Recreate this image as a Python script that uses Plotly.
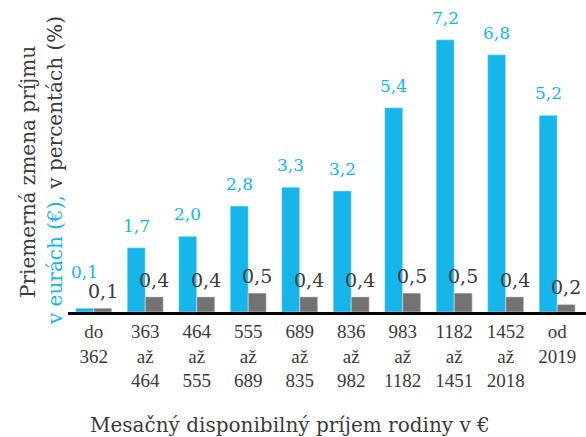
import plotly.graph_objects as go

categories = ["do<br>362", "363<br>až<br>464", "464<br>až<br>555", "555<br>až<br>689", "689<br>až<br>835",
              "836<br>až<br>982", "983<br>až<br>1182", "1182<br>až<br>1451", "1452<br>až<br>2018", "od<br>2019"]
eur_values = [0.1, 1.7, 2.0, 2.8, 3.3, 3.2, 5.4, 7.2, 6.8, 5.2]
pct_values = [0.1, 0.4, 0.4, 0.5, 0.4, 0.4, 0.5, 0.5, 0.4, 0.2]

BLUE = "#16b5ea"
GRAY = "#757272"
DARK = "#3b3b3b"
FONT = "DejaVu Serif"
TICKFONT = "Liberation Serif"

def fmt(v):
    return f"{v:.1f}".replace(".", ",")

x_idx = list(range(len(categories)))

fig = go.Figure()
fig.add_trace(go.Bar(x=x_idx, y=eur_values, marker_color=BLUE, name="eur"))
fig.add_trace(go.Bar(x=x_idx, y=pct_values, marker_color=GRAY, name="pct"))

annotations = []
for i, v in enumerate(eur_values):
    annotations.append(dict(x=i, y=v, xref="x", yref="y", text=fmt(v), showarrow=False,
                            xshift=-9, yshift=10 + (14 if i == 0 else 0), yanchor="bottom",
                            font=dict(family=FONT, size=17, color=BLUE)))
for i, v in enumerate(pct_values):
    annotations.append(dict(x=i, y=v, xref="x", yref="y", text=fmt(v), showarrow=False,
                            xshift=9, yshift=4, yanchor="bottom",
                            font=dict(family=FONT, size=19, color=DARK)))

# y-axis title (two lines)
annotations.append(dict(
    xref="paper", yref="paper", x=-0.0772, y=0.449, xanchor="center", yanchor="middle",
    textangle=-90, showarrow=False, text="Priemerná zmena príjmu",
    font=dict(family=FONT, size=20, color=DARK)))
annotations.append(dict(
    xref="paper", yref="paper", x=-0.0251, y=0.455, xanchor="center", yanchor="middle",
    textangle=-90, showarrow=False,
    text="<span style='color:%s'>v eurách (€),</span> v percentách (%%)" % BLUE,
    font=dict(family=FONT, size=20, color=DARK)))
# x-axis title
annotations.append(dict(
    xref="paper", yref="paper", x=0.4286, y=-0.362, xanchor="center", yanchor="middle",
    showarrow=False, text="Mesačný disponibilný príjem rodiny v €",
    font=dict(family=FONT, size=20, color=DARK)))

fig.update_layout(
    width=586, height=437,
    margin=dict(l=68, r=0, t=0, b=125),
    paper_bgcolor="white", plot_bgcolor="white",
    barmode="group", bargap=0.3, bargroupgap=0,
    showlegend=False,
    annotations=annotations,
    xaxis=dict(
        tickmode="array", tickvals=x_idx, ticktext=categories,
        range=[-0.5, 9.56], showline=True, linecolor="black", linewidth=3,
        ticks="", showgrid=False, zeroline=False,
        tickfont=dict(family=TICKFONT, size=19, color=DARK),
    ),
    yaxis=dict(range=[0, 8.25], showticklabels=False, showgrid=False, zeroline=False,
               ticks="", showline=False),
)

fig.write_html("out.html")
